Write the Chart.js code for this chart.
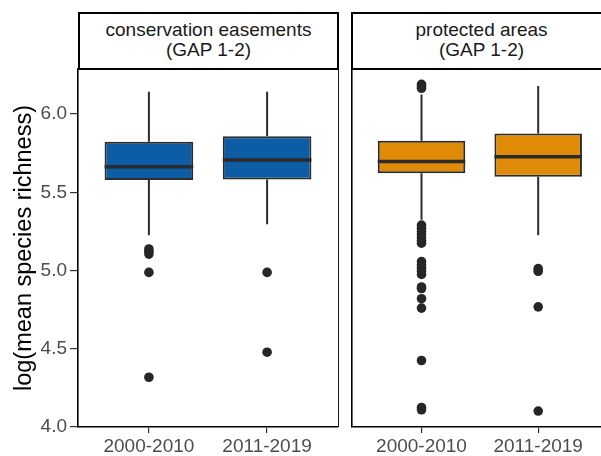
<!DOCTYPE html>
<html>
<head>
<meta charset="utf-8">
<script src="https://cdn.jsdelivr.net/npm/chart.js@4/dist/chart.umd.min.js"></script>
<style>
  body { margin: 0; width: 601px; height: 456px; overflow: hidden; background: #fff; position: relative; }
  canvas { position: absolute; left: 0; top: 0; }
  .strip {
    position: absolute; top: 12px; height: 58px; box-sizing: border-box;
    border: 2px solid #000; background: #fff; color: #1a1a1a;
    font: 19px 'Liberation Sans', Arial, sans-serif; line-height: 20px;
    text-align: center; padding-top: 6px;
  }
</style>
</head>
<body>
<canvas id="ease" width="613" height="456"></canvas>
<canvas id="prot" width="613" height="456"></canvas>
<div class="strip" style="left:78px;width:261px">conservation easements<br>(GAP 1-2)</div>
<div class="strip" style="left:351px;width:261px">protected areas<br>(GAP 1-2)</div>
<script>
const periods = ['2000-2010', '2011-2019']
const yTicks = [4.0, 4.5, 5.0, 5.5, 6.0]

// conservation easements (GAP 1-2)
const easeLow = [5.226, 5.296]
const easeQ1 = [5.578, 5.582]
const easeMedian = [5.663, 5.706]
const easeQ3 = [5.823, 5.859]
const easeHigh = [6.143, 6.143]
const easeOut2000 = [5.138, 5.122, 5.105, 4.988, 4.318]
const easeOut2011 = [4.988, 4.478]

// protected areas (GAP 1-2)
const protLow = [5.325, 5.226]
const protQ1 = [5.621, 5.599]
const protMedian = [5.697, 5.727]
const protQ3 = [5.829, 5.876]
const protHigh = [6.125, 6.179]
const protOut2000 = [6.19, 6.178, 6.165, 5.29, 5.27, 5.25, 5.23, 5.21, 5.19, 5.175,
  5.057, 5.035, 5.015, 4.995, 4.975, 4.895, 4.885, 4.82, 4.76, 4.425, 4.125, 4.11]
const protOut2011 = [5.012, 4.995, 4.768, 4.102]

const FONT = "'Liberation Sans', Arial, sans-serif"
const INK = '#2b2b2b'

// whiskers under the boxes, medians on top, thin right edge of the panel
const boxParts = {
  id: 'boxParts',
  beforeDatasetsDraw(chart, args, opts) {
    const {ctx, scales: {x, y}} = chart
    ctx.save()
    ctx.strokeStyle = INK
    ctx.lineWidth = 2
    opts.low.forEach((low, i) => {
      const px = x.getPixelForValue(i + 1)
      ctx.beginPath()
      ctx.moveTo(px, y.getPixelForValue(low))
      ctx.lineTo(px, y.getPixelForValue(opts.q1[i]))
      ctx.moveTo(px, y.getPixelForValue(opts.q3[i]))
      ctx.lineTo(px, y.getPixelForValue(opts.high[i]))
      ctx.stroke()
    })
    ctx.restore()
  },
  afterDatasetsDraw(chart, args, opts) {
    const {ctx, chartArea, scales: {y}} = chart
    const boxes = chart.getDatasetMeta(0).data
    ctx.save()
    ctx.strokeStyle = INK
    ctx.lineWidth = 3.5
    opts.median.forEach((m, i) => {
      const {x: bx, width} = boxes[i].getProps(['x', 'width'], true)
      const py = y.getPixelForValue(m)
      ctx.beginPath()
      ctx.moveTo(bx - width / 2, py)
      ctx.lineTo(bx + width / 2, py)
      ctx.stroke()
    })
    ctx.strokeStyle = '#1a1a1a'
    ctx.lineWidth = 1
    ctx.beginPath()
    ctx.moveTo(chartArea.right + 0.5, chartArea.top)
    ctx.lineTo(chartArea.right + 0.5, chartArea.bottom)
    ctx.stroke()
    ctx.restore()
  }
}

function makePanel(id, fill, low, q1, median, q3, high, out1, out2, showY, padLeft, padRight) {
  const config = {
    type: 'scatter',
    data: {
      datasets: [
        {
          type: 'bar',
          data: periods.map((p, i) => ({x: i + 1, y: [q1[i], q3[i]]})),
          backgroundColor: fill,
          borderColor: INK,
          borderWidth: 2,
          borderSkipped: false,
          categoryPercentage: 1,
          barPercentage: 0.75
        },
        {
          type: 'scatter',
          data: out1.map((v) => ({x: 1, y: v})).concat(out2.map((v) => ({x: 2, y: v}))),
          pointRadius: 4.8,
          pointBackgroundColor: '#262626',
          pointBorderWidth: 0
        }
      ]
    },
    options: {
      responsive: false,
      animation: false,
      events: [],
      layout: {padding: {left: padLeft, right: padRight, top: 69, bottom: 0}},
      plugins: {
        legend: {display: false},
        tooltip: {enabled: false},
        boxParts: {low, q1, median, q3, high}
      },
      scales: {
        x: {
          type: 'linear',
          bounds: 'data',
          min: 0.4,
          max: 2.6,
          offset: false,
          afterBuildTicks: (scale) => { scale.ticks = periods.map((p, i) => ({value: i + 1})) },
          afterFit: (scale) => { scale.height = 29 },
          ticks: {
            callback: (v) => periods[v - 1],
            color: '#4d4d4d',
            font: {family: FONT, size: 19},
            padding: 2,
            maxRotation: 0,
            autoSkip: false
          },
          grid: {offset: false, drawOnChartArea: false, tickLength: 6, color: '#333', lineWidth: 1.2},
          border: {display: true, color: '#000', width: 1.6}
        },
        y: {
          type: 'linear',
          bounds: 'data',
          min: 4.0,
          max: 6.288,
          afterBuildTicks: (scale) => { scale.ticks = yTicks.map((v) => ({value: v})) },
          afterFit: (scale) => { scale.width = showY ? 78 : 0 },
          ticks: {
            display: showY,
            callback: (v) => v.toFixed(1),
            color: '#4d4d4d',
            font: {family: FONT, size: 19},
            padding: 3
          },
          grid: {drawOnChartArea: false, drawTicks: showY, tickLength: 8, color: '#333', lineWidth: 1.2},
          border: {display: true, color: '#000', width: 1.6},
          title: {
            display: showY,
            text: 'log(mean species richness)',
            color: '#000',
            font: {family: FONT, size: 23.5},
            padding: {top: 10, bottom: 0}
          }
        }
      }
    },
    plugins: [boxParts]
  }
  return new Chart(document.getElementById(id), config)
}

makePanel('ease', '#0c5da5', easeLow, easeQ1, easeMedian, easeQ3, easeHigh,
  easeOut2000, easeOut2011, true, 0, 275)
makePanel('prot', '#df8b08', protLow, protQ1, protMedian, protQ3, protHigh,
  protOut2000, protOut2011, false, 351.5, 1.5)
</script>
</body>
</html>
